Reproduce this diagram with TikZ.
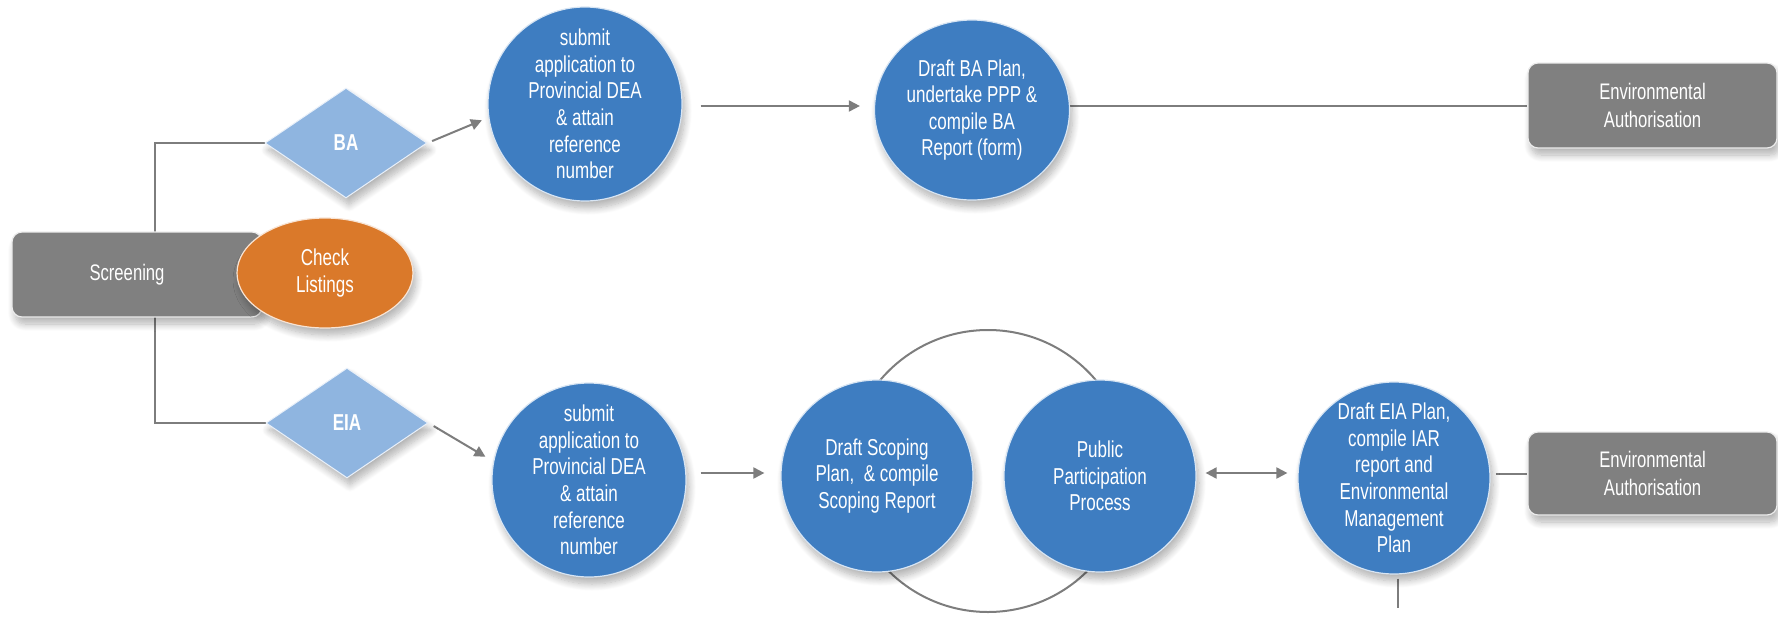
\documentclass[tikz,border=0pt]{standalone}
\usepackage{fontspec}
\setmainfont[FakeStretch=0.74]{Liberation Sans}
\usetikzlibrary{shapes.geometric,arrows.meta,shadows.blur,calc}

\definecolor{stageblue}{RGB}{62,125,193}
\definecolor{choiceblue}{RGB}{143,181,224}
\definecolor{boxgrey}{RGB}{128,128,128}
\definecolor{checkorange}{RGB}{218,121,42}
\definecolor{linkgrey}{RGB}{125,125,125}

\pgfdeclarelayer{back}
\pgfsetlayers{back,main}

\begin{document}
\begin{tikzpicture}[x=1pt,y=-1pt,
  softshadow/.style={blur shadow={shadow xshift=3pt, shadow yshift=-7pt,
      shadow blur radius=7pt, shadow blur steps=10, shadow opacity=30}},
  labelfont/.style={font=\fontsize{23}{26.6}\selectfont},
  stage/.style={circle, fill=stageblue, draw=white!80!stageblue, line width=1.2pt,
      minimum size=194pt, inner sep=0pt, text=white, align=center, labelfont, softshadow},
  outcome/.style={rectangle, rounded corners=10pt, fill=boxgrey, draw=white!85!boxgrey,
      line width=1.2pt, minimum width=249pt, minimum height=85pt, inner sep=0pt,
      text=white, align=center, font=\fontsize{22.5}{27.5}\selectfont, softshadow},
  choice/.style={diamond, aspect=1.47, fill=choiceblue, draw=white!80!choiceblue, line width=1pt,
      minimum width=162pt, minimum height=110pt, inner sep=0pt, text=white,
      font=\fontsize{23}{26}\selectfont\bfseries, softshadow},
  link/.style={draw=linkgrey, line width=2pt},
  flow/.style={link, -{Triangle[length=11pt,width=11pt]}},
  twoway/.style={link, {Triangle[length=11pt,width=11pt]}-{Triangle[length=11pt,width=11pt]}}
]
\useasboundingbox (0,0) rectangle (1778,616);

% screening and listing check
\node[outcome, minimum width=250pt] (scr) at (137,274.5) {Screening\hspace*{20pt}};
\node[ellipse, fill=checkorange, draw=white!80!checkorange, line width=1.2pt,
      minimum width=176pt, minimum height=110pt, inner sep=0pt, text=white,
      align=center, labelfont, softshadow] (chk) at (325,273) {Check\\Listings};

% the two routes
\node[choice] (ba) at (346,143) {BA};
\node[choice] (eia) at (347,423) {EIA};
\coordinate (spine) at (155,274);

% basic assessment route
\node[stage] (sub1) at (585,104) {submit\\application to\\Provincial DEA\\\& attain\\reference\\number};
\node[stage, ellipse, minimum width=195pt, minimum height=180pt] (plan1) at (972,110)
  {Draft BA Plan,\\undertake PPP \&\\compile BA\\Report (form)};
\node[outcome] (ea1) at (1652.5,105.5) {Environmental\\Authorisation};

% scoping and EIA route
\node[stage] (sub2) at (589,480) {submit\\application to\\Provincial DEA\\\& attain\\reference\\number};
\node[stage, minimum size=192pt] (scop) at (877,476) {Draft Scoping\\Plan,\ \ \& compile\\Scoping Report};
\node[stage, minimum size=192pt] (ppp) at (1100,476) {Public\\Participation\\Process};
\node[stage, minimum size=192pt] (plan2) at (1394,478)
  {Draft EIA Plan,\\compile IAR\\report and\\Environmental\\Management\\Plan};
\node[outcome, minimum height=83pt] (ea2) at (1652.5,473.5) {Environmental\\Authorisation};
\coordinate (tail) at (1398,608);

\begin{pgfonlayer}{back}
  % iteration loop between scoping and participation
  \draw[link] (988,471) circle[radius=141pt];
  % branching from screening
  \draw[link] (ba.west) -| (spine) |- (eia.west);
  % connectors
  \draw[flow, shorten <=5pt, shorten >=7pt] (ba.east) -- (sub1.188);
  \draw[flow, shorten <=6pt, shorten >=9pt] (eia.east) -- (sub2.169);
  \draw[flow, shorten <=18pt, shorten >=14pt] (sub1.east |- 0,106) -- (plan1.west |- 0,106);
  \draw[link] (plan1.east |- ea1.west) -- (ea1.west);
  \draw[flow, shorten <=14pt, shorten >=16pt] (sub2.east |- 0,473) -- (scop.west |- 0,473);
  \draw[twoway, shorten <=9pt, shorten >=10pt] (ppp.east |- 0,473) -- (plan2.west |- 0,473);
  \draw[link, shorten <=5pt] (plan2.east |- ea2.west) -- (ea2.west);
  \draw[link, shorten <=4pt] (plan2.south -| tail) -- (tail);
\end{pgfonlayer}
\end{tikzpicture}
\end{document}
